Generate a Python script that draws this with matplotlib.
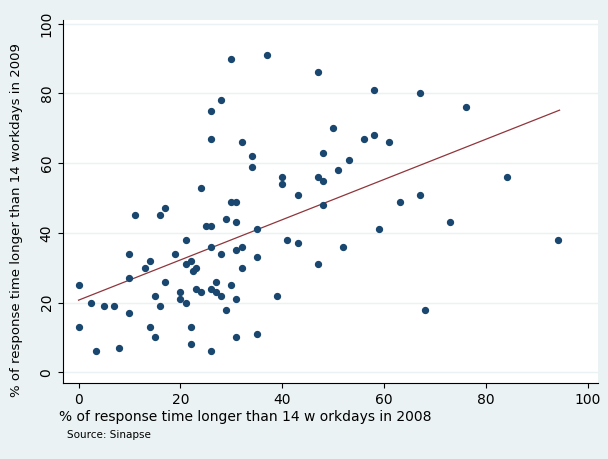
import matplotlib.pyplot as plt

x08 = [0, 0, 2.5, 3.5, 5, 7, 8, 10, 10, 10, 11, 13, 14, 14, 15, 15, 16, 16, 17, 17,
       19, 20, 20, 21, 21, 21, 22, 22, 22, 22.5, 23, 23, 24, 24, 25, 26, 26, 26, 26, 26,
       26, 27, 27, 28, 28, 28, 29, 29, 30, 30, 30, 31, 31, 31, 31, 31, 32, 32, 32, 34,
       34, 35, 35, 35, 37, 39, 40, 40, 41, 43, 43, 47, 47, 47, 48, 48, 48, 50, 51, 52,
       53, 56, 58, 58, 59, 61, 63, 67, 67, 68, 73, 76, 84, 94]
y09 = [25, 13, 20, 6, 19, 19, 7, 34, 17, 27, 45, 30, 32, 13, 22, 10, 45, 19, 47, 26,
       34, 21, 23, 38, 31, 20, 8, 32, 13, 29, 30, 24, 53, 23, 42, 75, 67, 42, 36, 24,
       6, 26, 23, 22, 34, 78, 44, 18, 49, 90, 25, 49, 43, 35, 21, 10, 66, 30, 36, 59,
       62, 41, 33, 11, 91, 22, 56, 54, 38, 51, 37, 86, 56, 31, 48, 63, 55, 70, 58, 36,
       61, 67, 81, 68, 41, 66, 49, 80, 51, 18, 43, 76, 56, 38]
fit_x = [0, 94.4]
fit_y = [20.7, 75.2]

fig = plt.figure(figsize=(6.08, 4.59), dpi=100)
fig.patch.set_facecolor('#eaf2f3')
ax = fig.add_axes([0.104, 0.166, 0.88, 0.79])
ax.set_facecolor('white')
ax.scatter(x08, y09, s=18, color='#1a476f', zorder=3)
ax.plot(fit_x, fit_y, color='#90353b', lw=0.9, zorder=2)
ax.set_xlim(-3, 102)
ax.set_ylim(-3, 101)
ax.set_xticks(range(0, 101, 20))
ax.set_yticks(range(0, 101, 20))
ax.tick_params(labelsize=10)
for lbl in ax.get_yticklabels():
    lbl.set_rotation(90)
    lbl.set_va('center')
ax.grid(axis='y', color='#eaf2f3', lw=1)
ax.set_axisbelow(True)
for s in ['top', 'right']:
    ax.spines[s].set_visible(False)
ax.set_xlabel('% of response time longer than 14 w orkdays in 2008', fontsize=10)
ax.xaxis.set_label_coords(0.34, -0.075)
ax.set_ylabel('% of response time longer than 14 workdays in 2009', fontsize=9.5)
ax.yaxis.set_label_coords(-0.075, 0.45)
fig.text(0.11, 0.045, 'Source: Sinapse', fontsize=7.5)
fig.savefig('out.png')
